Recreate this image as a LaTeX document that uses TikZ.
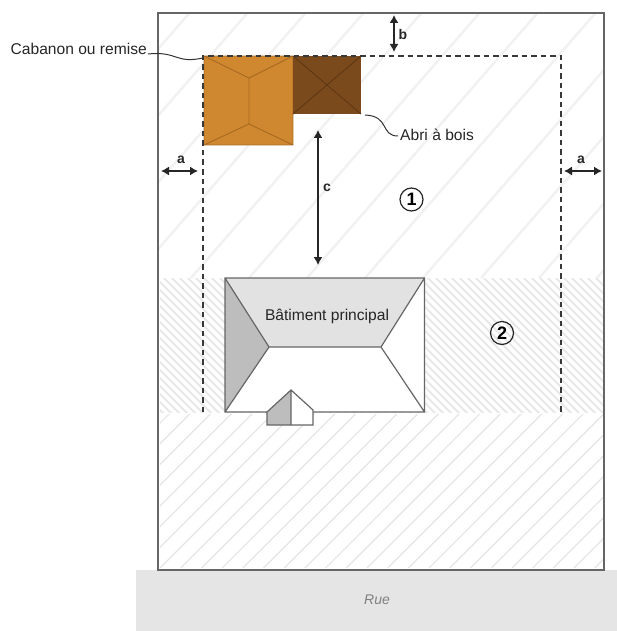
\documentclass[tikz,border=0pt]{standalone}
\usepackage{fontspec}
\setmainfont{Liberation Sans}
\usetikzlibrary{arrows.meta}
\definecolor{hatchA}{HTML}{F1F1F1}
\definecolor{hatchB}{HTML}{E8E8E8}
\definecolor{hatchC}{HTML}{E4E4E4}
\definecolor{linec}{HTML}{666666}
\definecolor{orangeroof}{HTML}{CF8830}
\definecolor{orangeline}{HTML}{A86A20}
\definecolor{brownroof}{HTML}{7A4A1C}
\definecolor{brownline}{HTML}{5C3612}
\definecolor{roofA}{HTML}{E2E2E2}
\definecolor{roofB}{HTML}{BDBDBD}
\tikzset{
  labeltext/.style={font=\fontsize{15.6}{18}\selectfont, text=black!85, inner sep=0pt},
  dimlabel/.style={font=\fontsize{14}{16}\selectfont\bfseries, text=black!85, inner sep=0pt},
  dimarrow/.style={{Latex[length=8pt,width=9pt]}-{Latex[length=8pt,width=9pt]}, line width=1.3pt, black!85},
  setback/.style={line width=1.7pt, dash pattern=on 5.5pt off 4pt, black!78},
  leader/.style={line width=1pt, black!80},
  roofline/.style={line width=1.2pt, linec},
  zonecircle/.style={circle, draw=black!85, line width=1.2pt, minimum size=23pt, inner sep=0pt, font=\fontsize{18}{20}\selectfont\bfseries}
}
\begin{document}
\begin{tikzpicture}[x=1pt,y=-1pt]
\useasboundingbox (0,0) rectangle (617,631);
% zone hatching
\begin{scope}
\clip (158,13) rectangle (604,278);
\foreach \k in {0,...,12} \draw[hatchA,line width=2.4pt] ({597-\k*58},278) -- ++(270,-310.5);
\end{scope}
\begin{scope}
\clip (160,278) rectangle (604,412);
\foreach \k in {0,...,80} \draw[hatchB,line width=2pt] ({20+\k*8},270) -- ++(150,150);
\end{scope}
\begin{scope}
\clip (160,414) rectangle (604,570);
\foreach \k in {-8,...,22} \draw[hatchC,line width=1.2pt] ({160+\k*20.7},568) -- ++(170,-170);
\end{scope}
% plot and street
\fill[black!10] (136,570) rectangle (617,631);
\node[font=\fontsize{14}{16}\selectfont\itshape, text=black!50, inner sep=0pt] (rue) at (377,600) {Rue};
\draw[line width=1.3pt, linec] (158,13) rectangle (604,570);
% outbuildings
\fill[orangeroof] (204,56) rectangle (293,145);
\draw[orangeline, line width=.9pt] (204,56) rectangle (293,145)
  (204,56) -- (249,78) -- (293,56) (249,78) -- (249,124)
  (204,145) -- (249,124) -- (293,145);
\fill[brownroof] (293,56) rectangle (361,114);
\draw[brownline, line width=.8pt] (293,56) -- (361,114) (361,56) -- (293,114);
% setback line
\draw[setback] (203,412) -- (203,56) -- (561,56) -- (561,412);
% main building
\fill[white] (225,278) rectangle (424.5,412);
\fill[roofA] (225,278) -- (424.5,278) -- (381,347) -- (269,347) -- cycle;
\fill[roofB] (225,278) -- (269,347) -- (225,412) -- cycle;
\draw[roofline] (225,278) rectangle (424.5,412)
  (225,278) -- (269,347) -- (381,347) -- (424.5,278)
  (225,412) -- (269,347) (381,347) -- (424.5,412);
\node[labeltext] (main) at (327,316) {Bâtiment principal};
% dormer
\fill[white] (267,425) -- (267,412) -- (291,390) -- (313,410) -- (313,425) -- cycle;
\fill[roofB] (267,425) -- (267,412) -- (291,390) -- (291,425) -- cycle;
\draw[roofline] (267,425) -- (267,412) -- (291,390) -- (313,410) -- (313,425) -- cycle (291,390) -- (291,425);
% dimension arrows
\coordinate (aLl) at (161,171); \coordinate (aLr) at (198,171);
\coordinate (aRl) at (564,171); \coordinate (aRr) at (602,171);
\coordinate (bt) at (394,15); \coordinate (bb) at (394,52);
\coordinate (ct) at (318,130); \coordinate (cb) at (318,265);
\draw[dimarrow] (aLl) -- (aLr);
\draw[dimarrow] (aRl) -- (aRr);
\draw[dimarrow] (bt) -- (bb);
\draw[dimarrow] (ct) -- (cb);
\node[dimlabel] (la1) at (181,160) {a};
\node[dimlabel] (la2) at (581,160) {a};
\node[dimlabel] (lb) at (403,34) {b};
\node[dimlabel] (lc) at (327,188) {c};
% zones
\node[zonecircle] (z1) at (411.5,199.5) {1};
\node[zonecircle] (z2) at (502,333) {2};
% leaders
\node[labeltext, anchor=east] (cab) at (147,49) {Cabanon ou remise};
\node[labeltext, anchor=west] (abri) at (400,135) {Abri à bois};
\coordinate (cabStart) at (148,54);
\coordinate (cabEnd) at (203,58);
\coordinate (abriEnd) at (365,115);
\coordinate (abriStart) at (398,136);
\draw[leader] (cabStart) .. controls (178,51) and (175,64) .. (cabEnd);
\draw[leader] (abriEnd) .. controls (390,116) and (380,136) .. (abriStart);
\end{tikzpicture}
\end{document}
